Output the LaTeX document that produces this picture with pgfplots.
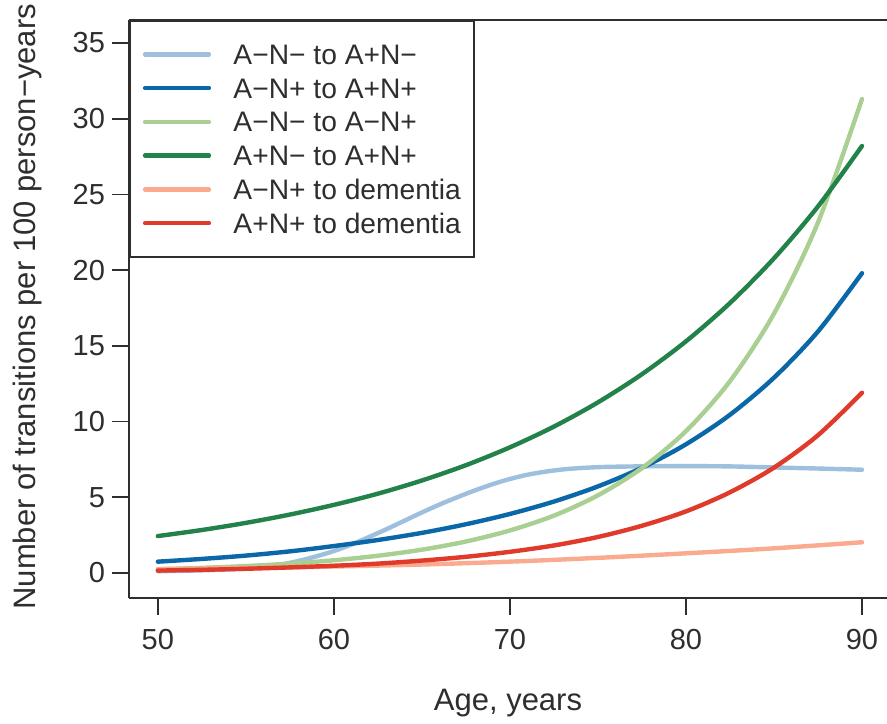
\documentclass[border=0pt]{standalone}
\usepackage{fontspec}
\setmainfont{Liberation Sans}
\usepackage{pgfplots}
\pgfplotsset{compat=1.18}
\definecolor{lblue}{HTML}{9FBFDF}
\definecolor{dblue}{HTML}{0B68A8}
\definecolor{lgreen}{HTML}{A9CF92}
\definecolor{dgreen}{HTML}{23824A}
\definecolor{salmon}{HTML}{F9AA8F}
\definecolor{dred}{HTML}{E03A2B}
\definecolor{axgray}{HTML}{2E2E2E}
\begin{document}
\begin{tikzpicture}
\begin{axis}[
  scale only axis,
  width=379pt, height=289pt,
  xmin=48.36, xmax=91.42,
  ymin=-1.65, ymax=36.52,
  axis x line*=box, axis y line*=left,
  xtick pos=left, ytick pos=left,
  xtick={50,60,70,80,90},
  ytick={0,5,10,15,20,25,30,35},
  tick align=outside,
  major tick length=8.5pt,
  every tick/.style={axgray, line width=0.9pt},
  axis line style={axgray, line width=0.9pt},
  /pgf/number format/assume math mode=true,
  ticklabel style={font=\fontsize{14.5}{17}\selectfont, text=axgray},
  xticklabel style={yshift=-3.6pt},
  xlabel={Age, years},
  ylabel={Number of transitions per 100 person−years},
  label style={font=\fontsize{15.5}{18}\selectfont, text=axgray},
  xlabel style={at={(axis description cs:0.5,-0.1955)}, anchor=base},
  ylabel style={at={(axis description cs:-0.124,0.504)}, anchor=base},
  legend cell align=left,
  legend image code/.code={\path (-7pt,0pt) -- (24.8pt,0pt); \draw[#1, line cap=round] (0pt,0pt) -- (24.8pt,0pt);},
  legend style={at={(axis description cs:0,1)}, anchor=north west,
    draw=axgray, line width=0.9pt, inner xsep=6.5pt, inner ysep=9.7pt,
    font=\fontsize{14.1}{16}\selectfont, text=axgray, row sep=2.9pt,
    nodes={inner sep=0pt, text height=12pt, text depth=2pt},
    /tikz/every odd column/.append style={column sep=11.3pt}},
  every axis plot/.append style={line width=2.2pt, line cap=round, smooth},
]
\addplot[lblue] coordinates {(50,0.12) (52,0.16) (54,0.24) (55,0.30) (56,0.40) (57,0.56) (58,0.80) (59,1.10) (60,1.45) (61,1.88) (62,2.38) (63,2.90) (64,3.45) (65,4.00) (66,4.52) (67,5.00) (68,5.45) (69,5.86) (70,6.21) (71,6.49) (72,6.69) (73,6.84) (74,6.93) (75,6.99) (76,7.02) (78,7.05) (80,7.06) (82.5,7.04) (85,6.97) (87.5,6.90) (90,6.82)};
\addlegendentry{A−N− to A+N−}
\addplot[dblue] coordinates {(50,0.75) (52.5,0.93) (55,1.15) (57.5,1.43) (60,1.78) (62.5,2.18) (65,2.65) (67.5,3.22) (70,3.90) (72.5,4.72) (75,5.72) (77.5,6.95) (80,8.50) (82.5,10.45) (85,12.90) (87.5,15.95) (90,19.8)};
\addlegendentry{A−N+ to A+N+}
\addplot[lgreen] coordinates {(50,0.25) (52.5,0.34) (55,0.46) (57.5,0.62) (60,0.84) (62.5,1.14) (65,1.54) (67.5,2.08) (70,2.81) (72.5,3.79) (75,5.13) (77.5,6.93) (80,9.37) (82.5,12.67) (85,17.13) (87.5,23.15) (90,31.3)};
\addlegendentry{A−N− to A−N+}
\addplot[dgreen] coordinates {(50,2.44) (52.5,2.84) (55,3.31) (57.5,3.86) (60,4.50) (62.5,5.24) (65,6.11) (67.5,7.12) (70,8.30) (72.5,9.67) (75,11.27) (77.5,13.13) (80,15.30) (82.5,17.83) (85,20.78) (87.5,24.21) (90,28.2)};
\addlegendentry{A+N− to A+N+}
\addplot[salmon] coordinates {(50,0.25) (55,0.33) (60,0.43) (65,0.56) (70,0.75) (75,1.00) (80,1.30) (85,1.63) (90,2.03)};
\addlegendentry{A−N+ to dementia}
\addplot[dred] coordinates {(50,0.16) (52.5,0.21) (55,0.28) (57.5,0.37) (60,0.48) (62.5,0.62) (65,0.82) (67.5,1.07) (70,1.40) (72.5,1.82) (75,2.38) (77.5,3.12) (80,4.07) (82.5,5.33) (85,6.96) (87.5,9.10) (90,11.9)};
\addlegendentry{A+N+ to dementia}
\end{axis}
\pgfresetboundingbox
\path ([xshift=-64.5pt,yshift=-63pt]current axis.south west) rectangle ([yshift=10pt]current axis.north east);
\end{tikzpicture}
\end{document}
